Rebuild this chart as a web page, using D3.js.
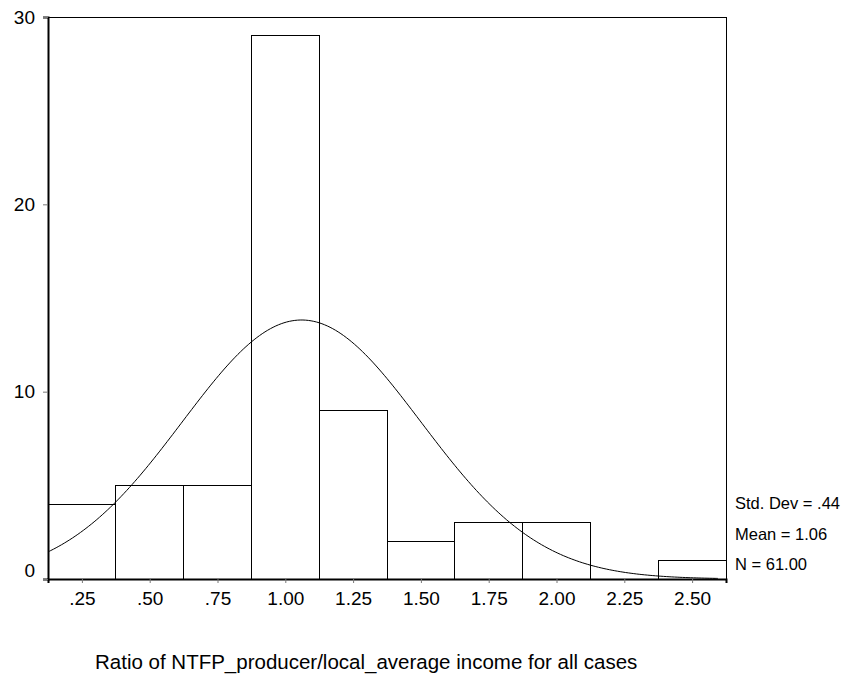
<!DOCTYPE html>
<html lang="en">
<head>
  <meta charset="UTF-8">
  <title>Histogram</title>
  <style>
    body {
      margin: 0;
      padding: 0;
      background-color: #ffffff;
      font-family: Arial, "Liberation Sans", sans-serif;
    }
  </style>
  <script src="https://d3js.org/d3.v7.min.js"></script>
</head>
<body>
  <div id="chart"></div>

  <script>
    // Bin centres and counts
    const binCenters = [0.25, 0.50, 0.75, 1.00, 1.25, 1.50, 1.75, 2.00, 2.25, 2.50];
    const binCounts = [4, 5, 5, 29, 9, 2, 3, 3, 0, 1];
    const binWidth = 0.25;

    const xTicks = [0.25, 0.50, 0.75, 1.00, 1.25, 1.50, 1.75, 2.00, 2.25, 2.50];
    const xTickLabels = [".25", ".50", ".75", "1.00", "1.25", "1.50", "1.75", "2.00", "2.25", "2.50"];
    const yTicks = [0, 10, 20, 30];

    // Summary statistics printed beside the chart
    const stdDev = 0.44;
    const mean = 1.06;
    const nCases = 61;
    const statLabels = ["Std. Dev = .44", "Mean = 1.06", "N = 61.00"];

    const xTitle = "Ratio of NTFP_producer/local_average income for all cases";

    const width = 849;
    const height = 679;
    const margin = {top: 17, right: 123, bottom: 100, left: 48};
    const innerW = width - margin.left - margin.right;
    const innerH = height - margin.top - margin.bottom;

    const svg = d3.select("#chart")
      .append("svg")
      .attr("width", width)
      .attr("height", height);

    const g = svg.append("g")
      .attr("transform", `translate(${margin.left},${margin.top})`);

    const x = d3.scaleLinear()
      .domain([0.125, 2.625])
      .range([0, innerW]);

    const y = d3.scaleLinear()
      .domain([0, 30])
      .range([innerH, 0]);

    // Bars
    g.selectAll("rect.bar")
      .data(binCenters.map((c, i) => ({c, n: binCounts[i]})))
      .enter()
      .append("rect")
      .attr("class", "bar")
      .attr("x", d => x(d.c - binWidth / 2))
      .attr("y", d => y(d.n))
      .attr("width", d => x(d.c + binWidth / 2) - x(d.c - binWidth / 2))
      .attr("height", d => innerH - y(d.n))
      .attr("fill", "none")
      .attr("stroke", "#000")
      .attr("stroke-width", 1)
      .attr("shape-rendering", "crispEdges");

    // Normal curve from the mean / std dev, scaled to counts per bin
    const scale = nCases * binWidth / (stdDev * Math.sqrt(2 * Math.PI));
    const curveXs = d3.range(0.125, 2.6, 0.01);
    const line = d3.line()
      .x(v => x(v))
      .y(v => y(scale * Math.exp(-((v - mean) ** 2) / (2 * stdDev * stdDev))))
      .curve(d3.curveBasis);

    g.append("path")
      .datum(curveXs)
      .attr("fill", "none")
      .attr("stroke", "#000")
      .attr("stroke-width", 1)
      .attr("d", line);

    // Frame
    g.append("rect")
      .attr("x", 0)
      .attr("y", 0)
      .attr("width", innerW)
      .attr("height", innerH)
      .attr("fill", "none")
      .attr("stroke", "#000")
      .attr("stroke-width", 1)
      .attr("shape-rendering", "crispEdges");

    // Axes
    const xAxis = g.append("g")
      .attr("transform", `translate(0,${innerH})`)
      .call(d3.axisBottom(x).tickValues(xTicks)
        .tickFormat((d, i) => xTickLabels[i]).tickSize(4).tickPadding(9));

    const yAxis = g.append("g")
      .call(d3.axisLeft(y).tickValues(yTicks).tickSize(5).tickPadding(8));

    [xAxis, yAxis].forEach(a => {
      a.select(".domain").attr("stroke", "#000").attr("stroke-width", 2);
      a.selectAll(".tick line").attr("stroke", "#777");
      a.selectAll("text")
        .attr("fill", "#000")
        .style("font-family", "Arial, 'Liberation Sans', sans-serif")
        .style("font-size", "19px");
    });

    // the "0" label sits a little above its tick in the original
    yAxis.selectAll(".tick text")
      .filter(d => d === 0)
      .attr("y", -9);

    // Stats text
    g.selectAll("text.stat")
      .data(statLabels)
      .enter()
      .append("text")
      .attr("class", "stat")
      .attr("x", innerW + 9)
      .attr("y", (d, i) => innerH - 70 + i * 30.5)
      .attr("fill", "#000")
      .style("font-size", "16.5px")
      .text(d => d);

    // X axis title
    svg.append("text")
      .attr("x", 95)
      .attr("y", 669)
      .attr("fill", "#000")
      .style("font-size", "20.5px")
      .text(xTitle);
  </script>
</body>
</html>
